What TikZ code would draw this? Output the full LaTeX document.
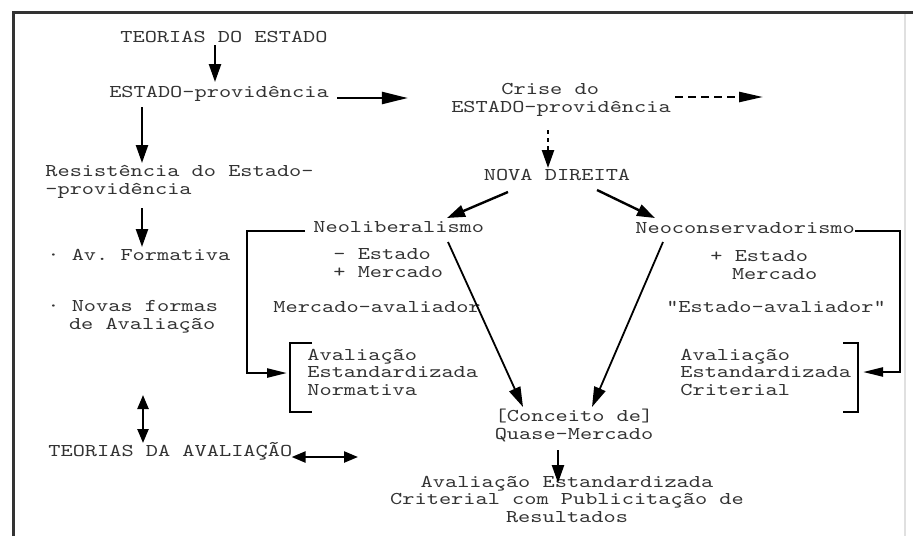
\documentclass[tikz,border=0pt]{standalone}
\usepackage{fontspec}
\setmonofont{lmmono10-regular.otf}[FakeStretch=1.29]
\usetikzlibrary{calc,arrows.meta}

\begin{document}
\begin{tikzpicture}[x=0.5pt,y=-0.5pt,
        txt/.style={font=\ttfamily\fontsize{9}{8.6}\selectfont, text=black!80, inner sep=0pt},
        arr/.style={line width=1.2pt, -{Triangle[length=9pt,width=6pt]}},
        dsh/.style={line width=1.2pt, -{Triangle[length=12pt,width=5pt]}},
        diag/.style={line width=0.9pt, -{Triangle[length=10pt,width=6pt]}},
        elb/.style={line width=1.2pt, -{Triangle[length=10pt,width=4.5pt]}},
        dbl/.style={line width=1.2pt, {Triangle[length=7pt,width=5.5pt]}-{Triangle[length=7pt,width=5.5pt]}},
        brk/.style={line width=1.2pt}]
        \useasboundingbox (0,0) rectangle (913,536);
        \draw[line width=1.5pt, black!80] (13,536) -- (13,12) -- (913,12);
        \draw[black!12, line width=0.6pt] (905,14) -- (905,536);

        % multi-line nodes sit on the baseline of their last line
        \node[txt, anchor=base] (teoest) at (224,42) {TEORIAS DO ESTADO};
        \node[txt, anchor=base] (estprov) at (219,97) {ESTADO-providência};
        \node[txt, anchor=base, align=center] (crise) at (561,112) {Crise do\hspace*{1.2em}\\ESTADO-providência};
        \node[txt, anchor=base] (novadir) at (557,180) {NOVA DIREITA};
        \node[txt, anchor=base west, align=left] (resist) at (45,194) {Resistência do Estado-\\-providência};
        \node[txt, anchor=base west] (avform) at (47,260) {· Av. Formativa};
        \node[txt, anchor=base west, align=left] (novas) at (47,329) {· Novas formas\\\hspace*{1.2em}de Avaliação};
        \node[txt, anchor=base west] (neolib) at (313,232) {Neoliberalismo};
        \node[txt, anchor=base west] (neocons) at (635,233) {Neoconservadorismo};
        \node[txt, anchor=base west, align=left] (menos) at (333,277) {- Estado\\+ Mercado};
        \node[txt, anchor=base west, align=left] (mais) at (710,279) {+ Estado\\\hspace*{1.2em}Mercado};
        \node[txt, anchor=base west] (mercav) at (273,312) {Mercado-avaliador};
        \node[txt, anchor=base] (estav) at (776,312) {"Estado-avaliador"};
        \node[txt, anchor=base west, align=left] (avnorm) at (307,395) {Avaliação\\Estandardizada\\Normativa};
        \node[txt, anchor=base west, align=left] (avcrit) at (680,395) {Avaliação\\Estandardizada\\Criterial};
        \node[txt, anchor=base, align=center] (conceito) at (574,439) {[Conceito de]\\Quase-Mercado};
        \node[txt, anchor=base west] (teoav) at (48,456) {TEORIAS DA AVALIAÇÃO};
        \node[txt, anchor=base, align=center] (avpub) at (567,522) {Avaliação Estandardizada\\Criterial com Publicitação de\\Resultados};
        \coordinate (cont) at (763,97);
        \coordinate (teoavfim) at (358,457);

        \draw[arr] ($(teoest.base)+(-9,3)$) -- ($(estprov.base)+(-4,-15)$);
        \draw[arr, -{Triangle[length=13pt,width=6pt]}] ($(estprov.base east)+(8,1)$) -- ($(crise.base west)+(-43,-14)$);
        \draw[dsh, dash pattern=on 4pt off 2.5pt] ($(crise.base east)+(4,-15)$) -- (cont);
        \draw[arr, dash pattern=on 2pt off 2pt] ($(crise.base)+(-13,18)$) -- ($(novadir.base)+(-9,-12)$);
        \draw[arr] ($(estprov.base)+(-77,10)$) -- ($(resist.base west)+(97,-31)$);
        \draw[arr] ($(resist.base west)+(97,14)$) -- ($(avform.base west)+(95,-13)$);
        \draw[arr] ($(novadir.base)+(-49,12)$) -- ($(neolib.base west)+(134,-14)$);
        \draw[arr] ($(novadir.base)+(40,10)$) -- ($(neocons.base west)+(20,-15)$);
        \draw[diag] ($(neolib.base west)+(135,10)$) -- ($(conceito.base)+(-51,-32)$);
        \draw[diag] ($(neocons.base west)+(28,9)$) -- ($(conceito.base)+(18,-32)$);
        \draw[elb] ($(neolib.base west)+(-8,-1)$) -- ++(-58,0) |- ($(avnorm.base west)+(-20,-22)$);
        \draw[elb] ($(neocons.base east)+(0,-2)$) -- ++(45,0) |- ($(avcrit.base west)+(183,-23)$);
        \draw[arr] ($(conceito.base)+(-16,11)$) -- ($(avpub.base)+(-9,-39)$);
        \draw[dbl] ($(novas.base west)+(96,66)$) -- ($(teoav.base west)+(95,-13)$);
        \draw[dbl] ($(teoav.base east)+(-1,1)$) -- (teoavfim);

        \draw[brk] ($(avnorm.base west)+(5,-52)$) -- ++(-22,0) -- ++(0,69) -- ++(22,0);
        \draw[brk] ($(avcrit.base west)+(163,-52)$) -- ++(15,0) -- ++(0,69) -- ++(-15,0);
    \end{tikzpicture}
\end{document}
